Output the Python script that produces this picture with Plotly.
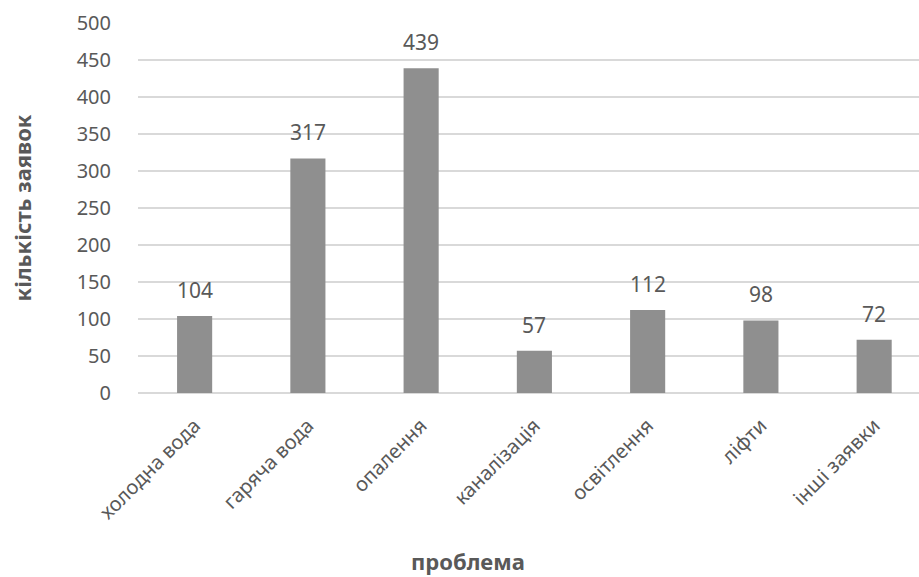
import plotly.graph_objects as go

categories = ["холодна вода", "гаряча вода", "опалення", "каналізація",
              "освітлення", "ліфти", "інші заявки"]
counts = [104, 317, 439, 57, 112, 98, 72]
y_ticks = [0, 50, 100, 150, 200, 250, 300, 350, 400, 450, 500]

FONT = "Noto Sans"
TEXT = "#595959"
BAR = "#8f8f8f"
GRID = "#d9d9d9"

fig = go.Figure(go.Bar(
    x=list(range(len(categories))),
    y=counts,
    width=0.31,
    marker=dict(color=BAR, line=dict(width=0)),
    hoverinfo="x+y",
))

# value labels above each bar
for i, v in enumerate(counts):
    fig.add_annotation(x=i, y=v, text=str(v), showarrow=False,
                       xanchor="center", yanchor="bottom", yshift=10,
                       font=dict(family=FONT, size=21, color=TEXT))

fig.add_annotation(xref="paper", yref="paper", x=0.4225, y=-0.455,
                   text="<b>проблема</b>", showarrow=False,
                   xanchor="center", yanchor="middle",
                   font=dict(family=FONT, size=22, color=TEXT))
fig.add_annotation(xref="paper", yref="paper", x=-0.148, y=0.5,
                   text="<b>кількість заявок</b>", showarrow=False,
                   textangle=-90, xanchor="center", yanchor="middle",
                   font=dict(family=FONT, size=22, color=TEXT))

fig.update_layout(
    width=919, height=577,
    margin=dict(l=138, r=0, t=23, b=184),
    paper_bgcolor="white", plot_bgcolor="white",
    showlegend=False,
    xaxis=dict(
        range=[-0.5, 6.396],
        tickmode="array",
        tickvals=list(range(len(categories))),
        ticktext=categories,
        tickangle=-45,
        tickfont=dict(family=FONT, size=20, color=TEXT),
        ticklabelstandoff=16,
        showgrid=False, zeroline=False,
        showline=False, ticks="",
    ),
    yaxis=dict(
        range=[0, 500],
        tickmode="array",
        tickvals=y_ticks,
        tickfont=dict(family=FONT, size=20, color=TEXT),
        showgrid=True, gridcolor=GRID, gridwidth=2,
        zeroline=True, zerolinecolor=GRID, zerolinewidth=2,
        showline=False, ticks="outside", ticklen=22, tickcolor="rgba(0,0,0,0)",
    ),
)

fig.write_html("out.html")
